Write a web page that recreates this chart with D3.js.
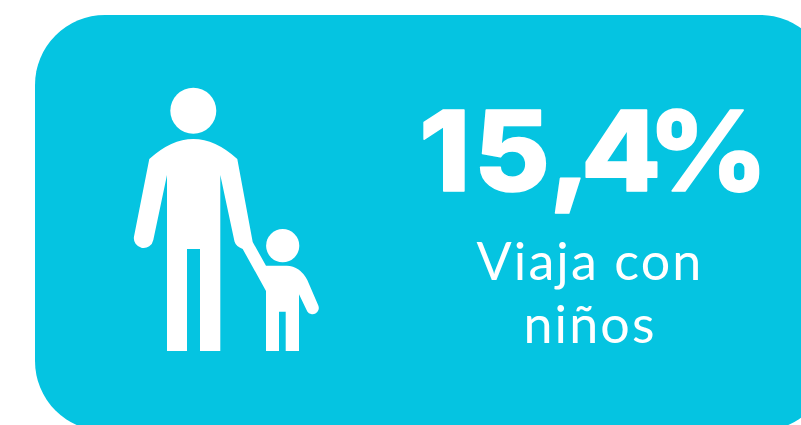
<!DOCTYPE html>
<html>
<head>
<meta charset="UTF-8">
<title>Viaja con niños</title>
<style>
    html, body { margin: 0; padding: 0; background: #fff; }
    svg { display: block; }
</style>
</head>
<body>
<svg id="svg" width="801" height="425"></svg>
<script src="https://d3js.org/d3.v7.min.js"></script>
<script>
    // the one figure on the card and its caption
    const valueLabel = ["15,4%"];
    const captionLines = ["Viaja con", "niños"];

    const svg = d3.select("#svg");
    const cardColor = "#05c4e1";

    // card runs off the right and bottom of the picture
    svg.append("rect")
        .attr("x", 35).attr("y", 15)
        .attr("width", 795).attr("height", 416)
        .attr("rx", 70).attr("ry", 70)
        .attr("fill", cardColor);

    // icon: adult holding the child's hand
    const icon = svg.append("g").attr("fill", "#fff");
    icon.append("circle").attr("cx", 193.3).attr("cy", 110.7).attr("r", 23);
    icon.append("circle").attr("cx", 282.7).attr("cy", 245.7).attr("r", 16.6);
    icon.append("path").attr("d",
        "M149.3 159 Q193.3 119 237.3 159 L252.7 242 L266 265.7 L286.7 265.7 " +
        "Q300 266 307.3 280 L318.3 305.5 A6.3 6.3 0 0 1 307.3 311.5 L299 294.3 " +
        "L299 351 L285.7 351 L285.7 311.7 L279 311.7 L279 351 L266 351 L266 291 " +
        "L242.7 249 Q236 246.5 234.5 241.5 L220.3 175 L220.3 351 L200 351 L200 249 " +
        "L187 249 L187 351 L167 351 L167 175 L153.3 240 A9.8 9.8 0 0 1 134 236.5 Z");

    // headline number, stretched sideways because the original face is wider
    // x list places each glyph on its own
    const stretch = 1.05;
    const glyphX = [419, 474, 549, 581, 648];
    svg.selectAll("text.value").data(valueLabel).join("text")
        .attr("class", "value")
        .attr("transform", "translate(0,190.5) scale(" + stretch + ",1)")
        .attr("x", glyphX.map(v => v / stretch).join(" "))
        .attr("y", 0)
        .attr("font-family", "Inter")
        .attr("font-weight", 800)
        .attr("font-size", 111)
        .attr("fill", "#fff")
        .attr("stroke", "#fff").attr("stroke-width", 1.5).attr("stroke-linejoin", "round")
        .text(d => d);

    // caption
    const captionY = d3.scaleOrdinal().domain(captionLines).range([279.5, 342.7]);
    svg.selectAll("text.caption").data(captionLines).join("text")
        .attr("class", "caption")
        .attr("x", 590).attr("y", d => captionY(d))
        .attr("text-anchor", "middle")
        .attr("font-family", "Lato")
        .attr("font-weight", 400)
        .attr("font-size", 52)
        .attr("letter-spacing", 2.1)
        .attr("fill", "#fff")
        .text(d => d);
</script>
</body>
</html>
